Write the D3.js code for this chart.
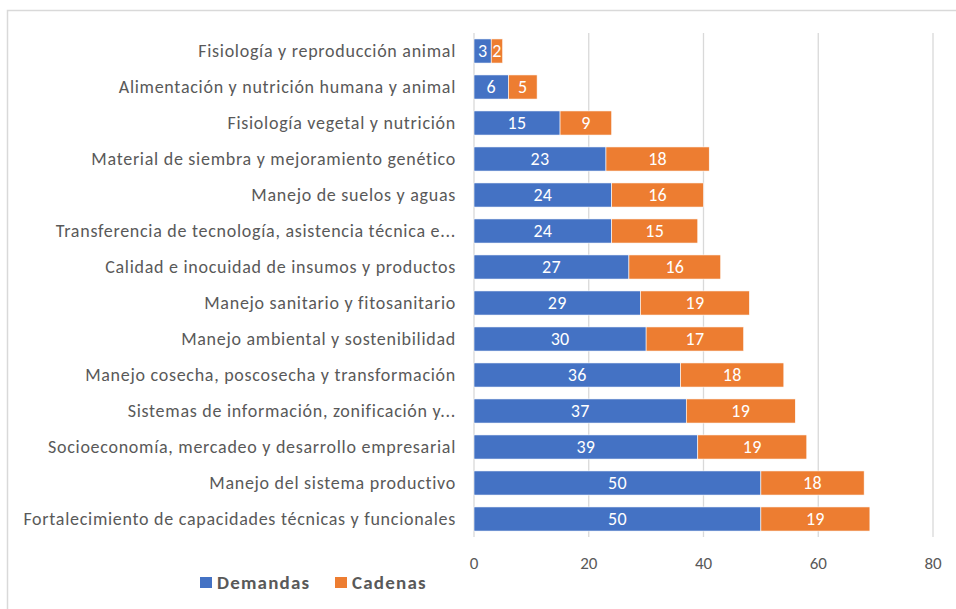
<!DOCTYPE html>
<html>
<head>
<meta charset="utf-8">
<script src="https://cdn.jsdelivr.net/npm/d3@7"></script>
<style>
  body { margin: 0; background: #fff; }
  svg text { font-family: Carlito, Calibri, Lato, sans-serif; }
</style>
</head>
<body>
<div id="chart"></div>
<script>
const categories = [
  "Fisiología y reproducción animal",
  "Alimentación y nutrición humana y animal",
  "Fisiología vegetal y nutrición",
  "Material de siembra y mejoramiento genético",
  "Manejo de suelos y aguas",
  "Transferencia de tecnología, asistencia técnica e...",
  "Calidad e inocuidad de insumos y productos",
  "Manejo sanitario y fitosanitario",
  "Manejo ambiental y sostenibilidad",
  "Manejo cosecha, poscosecha y transformación",
  "Sistemas de información, zonificación y...",
  "Socioeconomía, mercadeo y desarrollo empresarial",
  "Manejo del sistema productivo",
  "Fortalecimiento de capacidades técnicas y funcionales"
];
const demandas = [3, 6, 15, 23, 24, 24, 27, 29, 30, 36, 37, 39, 50, 50];
const cadenas  = [2, 5, 9, 18, 16, 15, 16, 19, 17, 18, 19, 19, 18, 19];
const seriesNames = ["Demandas", "Cadenas"];
const colors = ["#4472C4", "#ED7D31"];
const xTicks = [0, 20, 40, 60, 80];

const width = 956, height = 609;
const svg = d3.select("#chart").append("svg")
  .attr("width", width).attr("height", height);

// chart frame (runs off the right and bottom edge)
svg.append("rect")
  .attr("x", 7.5).attr("y", 10.5)
  .attr("width", 1000).attr("height", 700)
  .attr("fill", "none").attr("stroke", "#D9D9D9").attr("stroke-width", 1.5);

const x = d3.scaleLinear().domain([0, 80]).range([474, 933]);
const y = d3.scaleBand().domain(categories).range([33, 537]).paddingInner(0.33).paddingOuter(0.165);

// gridlines
svg.append("g").selectAll("line")
  .data(xTicks)
  .join("line")
  .attr("x1", d => x(d)).attr("x2", d => x(d))
  .attr("y1", 33).attr("y2", 537)
  .attr("stroke", "#D9D9D9").attr("stroke-width", 1.3);

const rows = categories.map((c, i) => ({ cat: c, values: [demandas[i], cadenas[i]] }));
const stacked = d3.stack().keys([0, 1]).value((d, k) => d.values[k])(rows);

const layers = svg.append("g").selectAll("g")
  .data(stacked)
  .join("g")
  .attr("fill", (d, i) => colors[i]);

layers.selectAll("rect")
  .data(d => d)
  .join("rect")
  .attr("x", d => x(d[0]))
  .attr("width", d => x(d[1]) - x(d[0]))
  .attr("y", d => y(d.data.cat))
  .attr("height", y.bandwidth())
  .attr("stroke", "#fff").attr("stroke-width", 0.6);

layers.selectAll("text")
  .data(d => d)
  .join("text")
  .attr("x", d => (x(d[0]) + x(d[1])) / 2)
  .attr("y", d => y(d.data.cat) + y.bandwidth() / 2)
  .attr("dy", "0.36em")
  .attr("text-anchor", "middle")
  .attr("fill", "#fff")
  .style("font-size", "18px")
  .style("letter-spacing", "0.3px")
  .text(d => d[1] - d[0]);

// category labels
svg.append("g").selectAll("text")
  .data(categories)
  .join("text")
  .attr("x", 456)
  .attr("y", d => y(d) + y.bandwidth() / 2)
  .attr("dy", "0.36em")
  .attr("text-anchor", "end")
  .attr("fill", "#595959")
  .style("font-size", "18px")
  .style("letter-spacing", "0.72px")
  .text(d => d);

// x tick labels
svg.append("g").selectAll("text")
  .data(xTicks)
  .join("text")
  .attr("x", d => x(d))
  .attr("y", 563)
  .attr("dy", "0.36em")
  .attr("text-anchor", "middle")
  .attr("fill", "#595959")
  .style("font-size", "17px")
  .text(d => d);

// legend
const legend = svg.append("g").selectAll("g")
  .data(seriesNames)
  .join("g")
  .attr("transform", (d, i) => `translate(${[200, 335][i]}, 582)`);
legend.append("rect")
  .attr("x", 0).attr("y", -5).attr("width", 12).attr("height", 11)
  .attr("fill", (d, i) => colors[i]);
legend.append("text")
  .attr("x", 17).attr("dy", "0.36em")
  .attr("fill", "#595959")
  .style("font-size", "19px").style("font-weight", "bold")
  .style("letter-spacing", "1.2px")
  .text(d => d);
</script>
</body>
</html>
